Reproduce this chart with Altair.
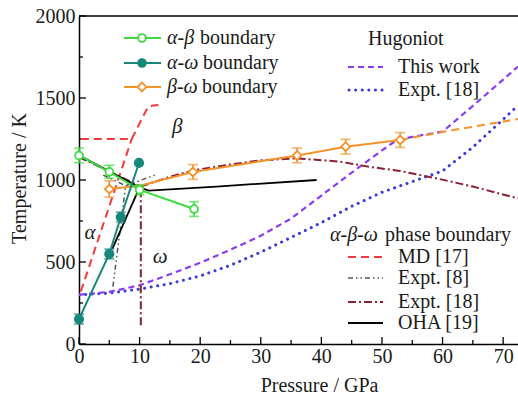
import altair as alt
import pandas as pd

FONT = "Liberation Serif"
INK = "#1a1a1a"
W, H = 439, 328
X_MAX = 72.45
Y_MAX = 2000

GREEN = "#3ddc3d"
TEAL = "#17877c"
ORANGE = "#f5922a"
PURPLE = "#8a3cf0"
BLUE = "#3b3bdc"
RED = "#f23a3a"
GRAY = "#555555"
BROWN = "#8a1f35"

# ---- this work: phase boundaries with error bars ----
ab_p = [0, 5, 10, 19]
ab_t = [1150, 1050, 940, 823]
ab_e = [45, 40, 30, 45]

aw_p = [0, 5, 6.9, 9.9]
aw_t = [152, 549, 774, 1104]
aw_e = [30, 30, 30, 0]

bw_p = [5, 18.8, 36, 44, 53]
bw_t = [945, 1049, 1150, 1203, 1244]
bw_e = [50, 45, 45, 45, 45]
bw_line_p = [5, 10, 18.8, 36, 44, 53]
bw_line_t = [945, 965, 1049, 1150, 1203, 1244]
bw_ext_p = [53, 60, 72.45]
bw_ext_t = [1244, 1293, 1372]

# ---- Hugoniots ----
hug_p = [0, 5, 10, 15, 20, 25, 30, 35, 40, 45, 50, 52.5, 56, 60, 65, 70, 72.45]
hug_t = [300, 318, 358, 425, 495, 575, 660, 765, 905, 1045, 1180, 1245, 1270, 1295, 1452, 1612, 1692]
hug18_p = [0, 5, 10, 15, 20, 25, 30, 35, 40, 45, 50, 55, 60, 65, 70, 72.45]
hug18_t = [300, 310, 335, 368, 415, 480, 560, 650, 740, 840, 925, 990, 1055, 1200, 1370, 1455]

# ---- literature phase boundaries ----
md_ab_p, md_ab_t = [0.3, 8.7], [1250, 1250]
md_aw_p, md_aw_t = [0.3, 8.7], [320, 1250]
md_bw_p, md_bw_t = [8.7, 11.4, 12.3, 13.1], [1250, 1447, 1455, 1457]

e8_aw_p, e8_aw_t = [5.6, 7.7], [350, 965]
e8_ab_p, e8_ab_t = [4.0, 7.7], [1030, 965]
e8_bw_p, e8_bw_t = [7.7, 12.5], [965, 1030]

e18_ab_p, e18_ab_t = [0, 10.2], [1140, 960]
e18_aw_p, e18_aw_t = [10.2, 10.2], [115, 960]
e18_bw_p = [10.2, 15, 19, 25, 30, 36, 43, 48, 53, 59, 65, 72.45]
e18_bw_t = [960, 1020, 1060, 1095, 1120, 1132, 1112, 1080, 1055, 1010, 960, 888]

oha_ab_p, oha_ab_t = [0, 10], [1150, 955]
oha_aw_p, oha_aw_t = [5.5, 10], [580, 955]
oha_bw_p, oha_bw_t = [10, 11.5, 22.7, 39.2], [955, 935, 960, 1000]

# ---- phase labels ----
phase_txt = ["α", "β", "ω"]
phase_p = [1.8, 16.2, 13.4]
phase_t = [677, 1323, 530]

# ---- axis ticks ----
x_major = [0, 10, 20, 30, 40, 50, 60, 70]
x_minor = [5, 15, 25, 35, 45, 55, 65]
y_major = [0, 500, 1000, 1500, 2000]
y_minor = [250, 750, 1250, 1750]


def seg_df(segments):
    rows = []
    for name, ps, ts in segments:
        for i, (p, t) in enumerate(zip(ps, ts)):
            rows.append({"p": p, "t": t, "seg": name, "i": i})
    return pd.DataFrame(rows)


xs = alt.Scale(domain=[0, X_MAX], nice=False, zero=False)
ys = alt.Scale(domain=[0, Y_MAX], nice=False)

xaxis = alt.Axis(values=x_major, format="d", ticks=False, grid=False, domainColor="black",
                 domainWidth=1.5, labelFont=FONT, labelFontSize=20, labelColor=INK,
                 labelPadding=2, labelFlush=False, title="Pressure / GPa",
                 titleFont=FONT, titleFontSize=20, titleFontWeight="normal",
                 titleColor=INK, titleX=240, titleY=41, titleBaseline="middle",
                 titleAlign="center")
yaxis = alt.Axis(values=y_major, format="d", ticks=False, grid=False, domainColor="black",
                 domainWidth=1.5, labelFont=FONT, labelFontSize=20, labelColor=INK,
                 labelPadding=4, labelFlush=False, title="Temperature / K",
                 titleFont=FONT, titleFontSize=20, titleFontWeight="normal",
                 titleColor=INK, titleX=-60, titleY=162, titleAngle=270,
                 titleAlign="center", titleBaseline="middle")


def X(field="p"):
    return alt.X(f"{field}:Q", scale=xs, axis=xaxis)


def Y(field="t"):
    return alt.Y(f"{field}:Q", scale=ys, axis=yaxis)


def line_layer(df, color, dash=None, width=2.0, cap="butt"):
    kw = dict(color=color, strokeWidth=width, clip=True, strokeCap=cap)
    if dash:
        kw["strokeDash"] = dash
    return alt.Chart(df).mark_line(**kw).encode(
        x=X(), y=Y(), detail="seg:N", order="i:Q")


def err_layers(ps, ts, es, color):
    d = pd.DataFrame({"p": ps, "lo": [t - e for t, e in zip(ts, es)],
                      "hi": [t + e for t, e in zip(ts, es)]})
    d = d[d["hi"] > d["lo"]]
    caps = pd.DataFrame({"p": list(d["p"]) * 2, "t": list(d["lo"]) + list(d["hi"])})
    r = alt.Chart(d).mark_rule(color=color, strokeWidth=1.6).encode(
        x=X(), y=Y("lo"), y2="hi:Q")
    c = alt.Chart(caps).mark_tick(color=color, thickness=1.6, size=10,
                                  orient="horizontal").encode(x=X(), y=Y())
    return [r, c]


def points(ps, ts, shape, color, fill, size):
    d = pd.DataFrame({"p": ps, "t": ts})
    return alt.Chart(d).mark_point(shape=shape, filled=True, fill=fill, stroke=color,
                                   strokeWidth=1.8, size=size, opacity=1).encode(
        x=X(), y=Y())


one = pd.DataFrame({"a": [0]})


def hrule(x1, x2, y, color, dash=None, width=2.0, cap="butt"):
    kw = dict(color=color, strokeWidth=width, strokeCap=cap)
    if dash:
        kw["strokeDash"] = dash
    return alt.Chart(one).mark_rule(**kw).encode(
        x=alt.value(x1), x2=alt.value(x2), y=alt.value(y))


def label(x, y, text, italic=False, size=20):
    return alt.Chart(one).mark_text(
        text=text, font=FONT, fontSize=size,
        fontStyle="italic" if italic else "normal",
        align="left", baseline="middle", color=INK).encode(
        x=alt.value(x), y=alt.value(y))


def marker(x, y, shape, color, fill, size):
    return alt.Chart(one).mark_point(shape=shape, filled=True, fill=fill, stroke=color,
                                     strokeWidth=1.8, size=size, opacity=1).encode(
        x=alt.value(x), y=alt.value(y))


DASH_RED = [8, 5]
DASH_PUR = [6, 4]
DOT_BLUE = [0.1, 6.5]
DASH_GRAY = [5, 3, 1.5, 3, 1.5, 3]
DASH_BROWN = [8, 3, 2, 3]
DASH_OR = [8, 5]

layers = []

# inward ticks
layers.append(alt.Chart(pd.DataFrame({"p": x_major})).mark_rule(color="black", strokeWidth=1.3)
              .encode(x=X(), y=alt.value(H), y2=alt.value(H - 7)))
layers.append(alt.Chart(pd.DataFrame({"p": x_minor})).mark_rule(color="black", strokeWidth=1.3)
              .encode(x=X(), y=alt.value(H), y2=alt.value(H - 4)))
layers.append(alt.Chart(pd.DataFrame({"t": y_major})).mark_rule(color="black", strokeWidth=1.3)
              .encode(y=Y(), x=alt.value(0), x2=alt.value(7)))
layers.append(alt.Chart(pd.DataFrame({"t": y_minor})).mark_rule(color="black", strokeWidth=1.3)
              .encode(y=Y(), x=alt.value(0), x2=alt.value(4)))
# top frame
layers.append(hrule(0, W + 2, 0, "black", width=1.5))

# Hugoniots
layers.append(line_layer(seg_df([("h18", hug18_p, hug18_t)]), BLUE, DOT_BLUE, 3.0, "round"))
layers.append(line_layer(seg_df([("hw", hug_p, hug_t)]), PURPLE, DASH_PUR, 2.2))

# literature boundaries
layers.append(line_layer(seg_df([("ab", md_ab_p, md_ab_t), ("aw", md_aw_p, md_aw_t),
                                 ("bw", md_bw_p, md_bw_t)]), RED, DASH_RED, 2.0))
layers.append(line_layer(seg_df([("ab", e8_ab_p, e8_ab_t), ("aw", e8_aw_p, e8_aw_t),
                                 ("bw", e8_bw_p, e8_bw_t)]), GRAY, DASH_GRAY, 1.5))
layers.append(line_layer(seg_df([("ab", e18_ab_p, e18_ab_t), ("aw", e18_aw_p, e18_aw_t),
                                 ("bw", e18_bw_p, e18_bw_t)]), BROWN, DASH_BROWN, 2.0))
layers.append(line_layer(seg_df([("ab", oha_ab_p, oha_ab_t), ("aw", oha_aw_p, oha_aw_t),
                                 ("bw", oha_bw_p, oha_bw_t)]), "black", None, 1.8))

# this work
layers.append(line_layer(seg_df([("ext", bw_ext_p, bw_ext_t)]), ORANGE, DASH_OR, 2.0))
layers.append(line_layer(seg_df([("bw", bw_line_p, bw_line_t)]), ORANGE, None, 2.0))
layers.append(line_layer(seg_df([("ab", ab_p, ab_t)]), GREEN, None, 2.0))
layers.append(line_layer(seg_df([("aw", aw_p, aw_t)]), TEAL, None, 2.0))
layers += err_layers(ab_p, ab_t, ab_e, GREEN)
layers += err_layers(aw_p, aw_t, aw_e, TEAL)
layers += err_layers(bw_p, bw_t, bw_e, ORANGE)
layers.append(points(ab_p, ab_t, "circle", GREEN, "white", 60))
layers.append(points(aw_p, aw_t, "circle", TEAL, TEAL, 70))
layers.append(points(bw_p, bw_t, "diamond", ORANGE, "white", 80))

# phase labels
layers.append(alt.Chart(pd.DataFrame({"p": phase_p, "t": phase_t, "s": phase_txt}))
              .mark_text(font=FONT, fontSize=21, fontStyle="italic", color=INK,
                         align="center", baseline="middle")
              .encode(x=X(), y=Y(), text="s:N"))

# legend 1 (this work)
leg1 = [("α-β", "boundary", GREEN, "circle", "white", 22, 121),
        ("α-ω", "boundary", TEAL, "circle", TEAL, 47, 124),
        ("β-ω", "boundary", ORANGE, "diamond", "white", 71, 123)]
for g, r, col, shp, fill, yy, rx in leg1:
    layers.append(hrule(45, 82, yy, col, width=2.0))
    layers.append(marker(63, yy, shp, col, fill, 60 if shp == "circle" else 80))
    layers.append(label(88, yy, g, italic=True))
    layers.append(label(rx, yy, r))

# legend 2 (Hugoniot)
layers.append(label(289, 23, "Hugoniot"))
layers.append(hrule(269, 304, 51, PURPLE, DASH_PUR, 2.2))
layers.append(label(319, 51, "This work"))
layers.append(hrule(270, 304, 74, BLUE, DOT_BLUE, 3.0, "round"))
layers.append(label(319, 74, "Expt. [18]"))

# legend 3 (literature)
layers.append(label(251, 219, "α-β-ω", italic=True))
layers.append(label(306, 219, "phase boundary"))
leg3 = [(241, RED, DASH_RED, 2.0, "MD [17]"),
        (262, GRAY, DASH_GRAY, 1.5, "Expt. [8]"),
        (286, BROWN, DASH_BROWN, 2.0, "Expt. [18]"),
        (307, "black", None, 1.8, "OHA [19]")]
for yy, col, dash, wdt, txt in leg3:
    layers.append(hrule(269, 304, yy, col, dash, wdt))
    layers.append(label(319, yy, txt))

chart = alt.layer(*layers).properties(
    width=W, height=H,
    padding={"left": 79, "top": 16, "right": 0, "bottom": 54},
    autosize=alt.AutoSizeParams(type="none"),
    background="white",
).configure_view(stroke="transparent")

chart.save("out.html", embed_options={"renderer": "svg", "actions": False})
